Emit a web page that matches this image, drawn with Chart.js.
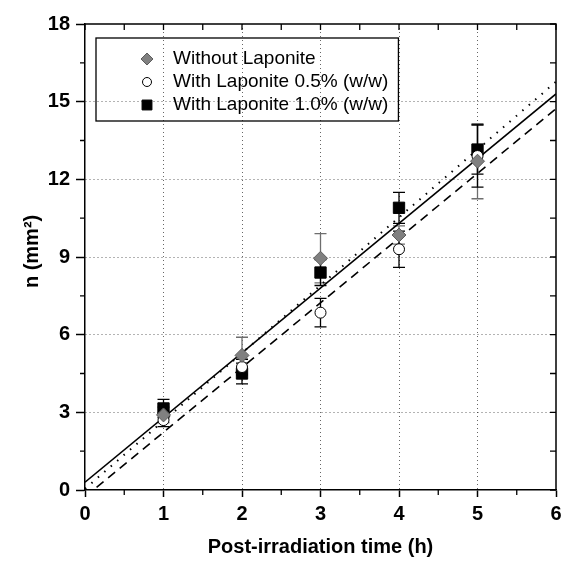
<!DOCTYPE html>
<html>
<head>
<meta charset="utf-8">
<script src="https://cdn.jsdelivr.net/npm/chart.js@4/dist/chart.umd.min.js"></script>
<style>
  html, body { margin: 0; padding: 0; background: #fff; }
  #wrap { width: 565px; height: 563px; }
</style>
</head>
<body>
<div id="wrap"><canvas id="chart" width="565" height="563"></canvas></div>
<script>
// ── data ──
const hours = [1, 2, 3, 4, 5];
const noLaponite = [2.9, 5.2, 8.95, 9.85, 12.7];
const noLaponiteErr = [0.3, 0.7, 0.95, 0.35, 1.45];
const laponite05 = [2.7, 4.75, 6.85, 9.3, 12.9];
const laponite05Err = [0.25, 0.3, 0.55, 0.7, 1.2];
const laponite10 = [3.15, 4.5, 8.4, 10.9, 13.15];
const laponite10Err = [0.35, 0.4, 0.5, 0.6, 0.95];
const seriesLabels = ['Without Laponite', 'With Laponite 0.5% (w/w)', 'With Laponite 1.0% (w/w)'];

// linear fits: solid, dashed, dotted
const fitSlope = [2.5, 2.5, 2.62];
const fitIntercept = [0.3, -0.27, 0.05];
const fitRange = [0, 6];

const xTicks = [0, 1, 2, 3, 4, 5, 6];
const yTicks = [0, 3, 6, 9, 12, 15, 18];

const FONT = "'Liberation Sans', Arial, sans-serif";

const pts = vals => hours.map((h, i) => ({ x: h, y: vals[i] }));
const fitLine = k => fitRange.map(x => ({ x, y: fitIntercept[k] + fitSlope[k] * x }));

// ═══ plugins ═══
const errorBars = {
  id: 'errorBars',
  beforeDatasetsDraw(chart) {
    const { ctx, scales: { x, y } } = chart;
    chart.data.datasets.forEach(ds => {
      if (!ds.errors) return;
      ctx.save();
      ctx.strokeStyle = ds.errorColor;
      ctx.lineWidth = 1.3;
      ds.data.forEach((p, j) => {
        const px = x.getPixelForValue(p.x);
        const lo = y.getPixelForValue(p.y - ds.errors[j]);
        const hi = y.getPixelForValue(p.y + ds.errors[j]);
        ctx.beginPath();
        ctx.moveTo(px, lo); ctx.lineTo(px, hi);
        ctx.moveTo(px - 6, lo); ctx.lineTo(px + 6, lo);
        ctx.moveTo(px - 6, hi); ctx.lineTo(px + 6, hi);
        ctx.stroke();
      });
      ctx.restore();
    });
  }
};

// top/right mirror axis + minor ticks
const frame = {
  id: 'frame',
  afterDraw(chart) {
    const { ctx, chartArea: a, scales: { x, y } } = chart;
    ctx.save();
    ctx.strokeStyle = '#000';
    ctx.lineWidth = 1.5;
    ctx.beginPath();
    ctx.moveTo(a.left, a.top); ctx.lineTo(a.right, a.top); ctx.lineTo(a.right, a.bottom);
    ctx.stroke();
    ctx.lineWidth = 1.3;
    ctx.beginPath();
    for (let v = 0; v <= 6; v += 0.5) {
      const px = x.getPixelForValue(v);
      ctx.moveTo(px, a.top); ctx.lineTo(px, a.top + 6);
      if (v % 1) { ctx.moveTo(px, a.bottom); ctx.lineTo(px, a.bottom + 5); }
    }
    for (let v = 0; v <= 18; v += 1.5) {
      const py = y.getPixelForValue(v);
      ctx.moveTo(a.right, py); ctx.lineTo(a.right - 6, py);
      if (v % 3) { ctx.moveTo(a.left, py); ctx.lineTo(a.left - 5, py); }
    }
    ctx.stroke();
    ctx.restore();
  }
};

// boxed legend inside plot
const boxLegend = {
  id: 'boxLegend',
  afterDraw(chart) {
    const { ctx } = chart;
    const items = chart.data.datasets.filter(d => d.inLegend);
    const left = 96, top = 38, rowH = 23, markX = 147, textX = 173;
    ctx.save();
    ctx.font = '19px ' + FONT;
    const w = Math.max(...items.map(d => ctx.measureText(d.label).width));
    ctx.lineWidth = 1.3;
    ctx.strokeStyle = '#000';
    ctx.strokeRect(left, top, textX - left + w + 10, rowH * items.length + 14);
    items.forEach((d, i) => {
      const cy = top + 21 + i * rowH;
      ctx.fillStyle = d.backgroundColor;
      ctx.strokeStyle = d.borderColor;
      ctx.lineWidth = 1;
      Chart.helpers.drawPoint(ctx, { pointStyle: d.pointStyle, radius: d.pointRadius - 1, borderWidth: 1 }, markX, cy);
      ctx.fillStyle = '#000';
      ctx.textBaseline = 'middle';
      ctx.fillText(d.label, textX, cy);
    });
    ctx.restore();
  }
};

// ═══ chart ═══
const tickFont = { family: FONT, size: 20, weight: 'bold' };
const gridColor = lim => c => (c.tick && c.tick.value > 0 && c.tick.value < lim) ? 'rgba(0,0,0,0.6)' : 'rgba(0,0,0,0)';

new Chart(document.getElementById('chart').getContext('2d'), {
  type: 'scatter',
  data: {
    datasets: [
      { label: seriesLabels[0], data: pts(noLaponite), errors: noLaponiteErr, errorColor: '#6e6e6e', inLegend: true,
        pointStyle: 'rectRot', pointRadius: 7, backgroundColor: '#808080', borderColor: '#5c5c5c', borderWidth: 1, order: 0 },
      { label: seriesLabels[1], data: pts(laponite05), errors: laponite05Err, errorColor: '#000', inLegend: true,
        pointStyle: 'circle', pointRadius: 5.5, backgroundColor: '#fff', borderColor: '#000', borderWidth: 1, order: 0 },
      { label: seriesLabels[2], data: pts(laponite10), errors: laponite10Err, errorColor: '#000', inLegend: true,
        pointStyle: 'rect', pointRadius: 8, backgroundColor: '#000', borderColor: '#000', borderWidth: 1, order: 0 },
      { label: 'fit solid', data: fitLine(0), showLine: true, pointRadius: 0, borderColor: '#000', borderWidth: 1.6, order: 1 },
      { label: 'fit dashed', data: fitLine(1), showLine: true, pointRadius: 0, borderColor: '#000', borderWidth: 1.6, borderDash: [9, 6], order: 1 },
      { label: 'fit dotted', data: fitLine(2), showLine: true, pointRadius: 0, borderColor: '#000', borderWidth: 2, borderDash: [1.5, 7], order: 1 }
    ]
  },
  options: {
    responsive: false,
    animation: false,
    layout: { padding: { top: 24, right: 5, left: 0, bottom: 0 } },
    plugins: { legend: { display: false }, tooltip: { enabled: false } },
    scales: {
      x: {
        type: 'linear', min: 0, max: 6,
        afterBuildTicks: s => { s.ticks = xTicks.map(value => ({ value })); },
        afterFit: s => { s.height = 73; s.paddingLeft = 0; s.paddingRight = 0; },
        ticks: { color: '#000', font: tickFont, padding: 5 },
        grid: { color: gridColor(6), lineWidth: 1, tickLength: 7, tickColor: '#000', tickWidth: 1.5 },
        border: { display: true, color: '#000', width: 1.5, dash: [1, 3] },
        title: { display: true, text: 'Post-irradiation time (h)', color: '#000', font: tickFont, padding: { bottom: 4 } }
      },
      y: {
        type: 'linear', min: 0, max: 18,
        afterBuildTicks: s => { s.ticks = yTicks.map(value => ({ value })); },
        afterFit: s => { s.width = 85; s.paddingTop = 0; s.paddingBottom = 0; },
        ticks: { color: '#000', font: tickFont, padding: 6 },
        grid: { color: gridColor(18), lineWidth: 1, tickLength: 9, tickColor: '#000', tickWidth: 1.5 },
        border: { display: true, color: '#000', width: 1.5, dash: [1, 3] },
        title: { display: true, text: '  n (mm²)', color: '#000', font: tickFont, padding: { top: 20 } }
      }
    }
  },
  plugins: [errorBars, frame, boxLegend]
});
</script>
</body>
</html>
